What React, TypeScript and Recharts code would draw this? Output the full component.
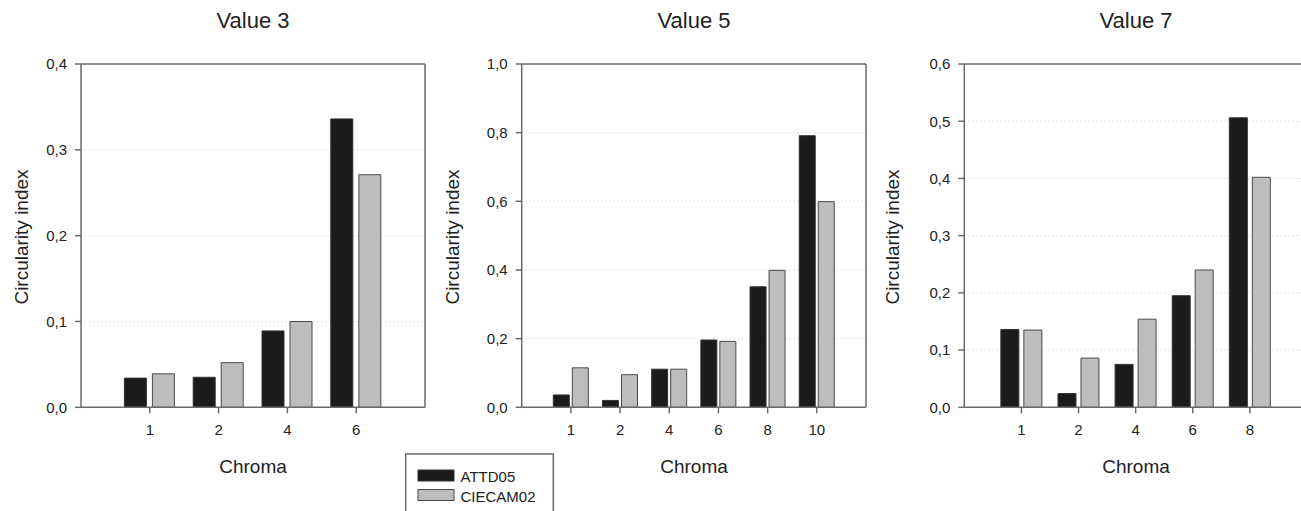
import {Bar, BarChart, CartesianGrid, XAxis, YAxis} from 'recharts';

const value3Chroma = ['1', '2', '4', '6'];
const value3Attd05 = [0.034, 0.035, 0.089, 0.336];
const value3Ciecam02 = [0.039, 0.052, 0.1, 0.271];
const value3Ticks = [0, 0.1, 0.2, 0.3, 0.4];

const value5Chroma = ['1', '2', '4', '6', '8', '10'];
const value5Attd05 = [0.036, 0.02, 0.111, 0.196, 0.351, 0.791];
const value5Ciecam02 = [0.115, 0.095, 0.111, 0.192, 0.399, 0.599];
const value5Ticks = [0, 0.2, 0.4, 0.6, 0.8, 1.0];

const value7Chroma = ['1', '2', '4', '6', '8'];
const value7Attd05 = [0.136, 0.024, 0.075, 0.195, 0.506];
const value7Ciecam02 = [0.135, 0.086, 0.154, 0.24, 0.402];
const value7Ticks = [0, 0.1, 0.2, 0.3, 0.4, 0.5, 0.6];

const FONT = 'Arial, "Liberation Sans", sans-serif';
const AXIS = '#6a6a6a';
const TEXT = '#222';
const BLACK = '#1b1b1b';
const GRAY = '#bdbdbd';
const CHART_H = 511;
const PLOT_TOP = 64;
const PLOT_BOTTOM = 407.3;

function buildRows(chroma: string[], a: number[], c: number[]) {
    return chroma.map((ch, i) => ({chroma: ch, ATTD05: a[i], CIECAM02: c[i]}));
}

const fmt = (v: number) => v.toFixed(1).replace('.', ',');

const XTick = (props: any) => (
    <text x={props.x} y={props.y} dy="0.71em" textAnchor="middle" fontSize={15} fontFamily={FONT} fill={TEXT}>
        {props.payload.value}
    </text>
);

const YTick = (props: any) => (
    <text x={props.x} y={props.y} dy="0.36em" textAnchor="end" fontSize={15} fontFamily={FONT} fill={TEXT}>
        {fmt(props.payload.value)}
    </text>
);

interface PanelProps {
    left: number;
    width: number;
    plotLeft: number;
    plotRight: number;
    rows: {chroma: string; ATTD05: number; CIECAM02: number}[];
    ticks: number[];
    barSize: number;
    barGap: number;
    rightFrame?: boolean;
}

function Panel({left, width, plotLeft, plotRight, rows, ticks, barSize, barGap, rightFrame = true}: PanelProps) {
    const plotW = plotRight - plotLeft;
    const pad = plotW / (2 * (rows.length + 1));
    const max = ticks[ticks.length - 1];
    return (
        <div style={{position: 'absolute', left, top: 0, width, height: CHART_H, overflow: 'hidden'}}>
            <BarChart
                width={width}
                height={CHART_H}
                data={rows}
                barSize={barSize}
                barGap={barGap}
                margin={{
                    top: PLOT_TOP - 1,
                    left: plotLeft - left - 1,
                    right: left + width - plotRight - (rightFrame ? 1 : 0),
                    bottom: CHART_H - PLOT_BOTTOM - 1,
                }}
            >
                <CartesianGrid
                    vertical={false}
                    stroke="#cfcfcf"
                    strokeDasharray="1 3"
                />
                <XAxis
                    dataKey="chroma"
                    height={1}
                    padding={{left: pad, right: pad}}
                    tickSize={6}
                    tickMargin={11}
                    stroke={AXIS}
                    strokeWidth={1.5}
                    tick={XTick}
                />
                <XAxis
                    xAxisId="top"
                    orientation="top"
                    dataKey="chroma"
                    height={1}
                    tick={false}
                    tickLine={false}
                    stroke={AXIS}
                    strokeWidth={1.5}
                />
                <YAxis
                    width={1}
                    domain={[0, max]}
                    ticks={ticks}
                    tickSize={6}
                    tickMargin={8}
                    stroke={AXIS}
                    strokeWidth={1.5}
                    tick={YTick}
                />
                {rightFrame && (
                    <YAxis
                        yAxisId="frame"
                        orientation="right"
                        width={1}
                        domain={[0, max]}
                        tick={false}
                        tickLine={false}
                        stroke={AXIS}
                        strokeWidth={1.5}
                    />
                )}
                <Bar dataKey="ATTD05" fill={BLACK} stroke="#333" strokeWidth={1} isAnimationActive={false}/>
                <Bar dataKey="CIECAM02" fill={GRAY} stroke="#4a4a4a" strokeWidth={1} isAnimationActive={false}/>
            </BarChart>
        </div>
    );
}

const panels = [
    {title: 'Value 3', cx: 253, labelX: 28},
    {title: 'Value 5', cx: 694, labelX: 459},
    {title: 'Value 7', cx: 1136, labelX: 899},
];

export default function App() {
    return (
        <div
            style={{
                position: 'fixed',
                left: 0,
                top: 0,
                width: 1301,
                height: 511,
                overflow: 'hidden',
                background: '#fff',
                fontFamily: FONT,
            }}
        >
            <Panel
                left={0}
                width={432}
                plotLeft={81}
                plotRight={425}
                rows={buildRows(value3Chroma, value3Attd05, value3Ciecam02)}
                ticks={value3Ticks}
                barSize={22}
                barGap={6}
            />
            <Panel
                left={432}
                width={438}
                plotLeft={521.7}
                plotRight={866}
                rows={buildRows(value5Chroma, value5Attd05, value5Ciecam02)}
                ticks={value5Ticks}
                barSize={16}
                barGap={3}
            />
            <Panel
                left={870}
                width={450}
                plotLeft={964.3}
                plotRight={1307}
                rows={buildRows(value7Chroma, value7Attd05, value7Ciecam02)}
                ticks={value7Ticks}
                barSize={18}
                barGap={5}
                rightFrame={false}
            />
            <svg
                width={1301}
                height={511}
                style={{position: 'absolute', left: 0, top: 0, pointerEvents: 'none'}}
                fontFamily={FONT}
                fill={TEXT}
            >
                {panels.map((p) => (
                    <g key={p.title}>
                        <text x={p.cx} y={28} fontSize={22} textAnchor="middle">
                            {p.title}
                        </text>
                        <text x={p.cx} y={473} fontSize={19} textAnchor="middle">
                            Chroma
                        </text>
                        <text
                            x={p.labelX}
                            y={237}
                            fontSize={19}
                            textAnchor="middle"
                            transform={`rotate(-90 ${p.labelX} 237)`}
                        >
                            Circularity index
                        </text>
                    </g>
                ))}
                <rect x={405.7} y={454} width={147.6} height={70} fill="#fff" stroke={AXIS} strokeWidth={1.5}/>
                <rect x={418} y={470} width={36} height={11} fill={BLACK} stroke="#333"/>
                <rect x={418} y={489.5} width={36} height={11} fill={GRAY} stroke="#4a4a4a"/>
                <text x={460.5} y={481.5} fontSize={15}>ATTD05</text>
                <text x={460.5} y={501.5} fontSize={15}>CIECAM02</text>
            </svg>
        </div>
    );
}
